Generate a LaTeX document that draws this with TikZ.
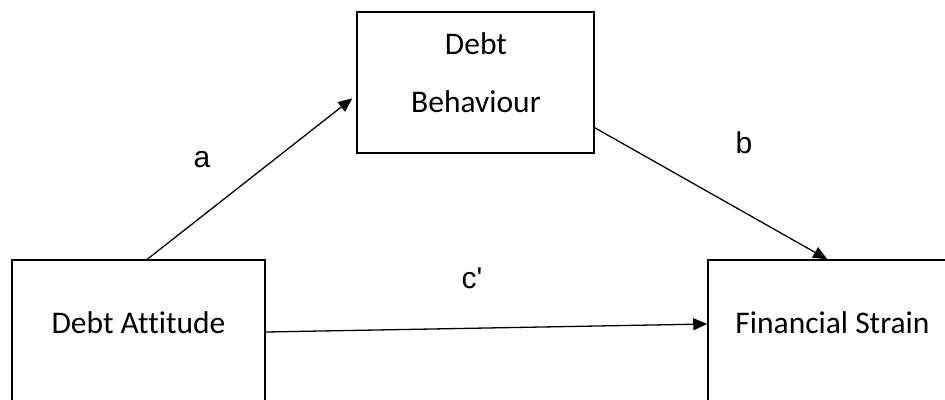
\documentclass[tikz,border=0pt]{standalone}
\usepackage{fontspec}
\setmainfont{Carlito}[Ligatures=NoCommon]
\newfontfamily\labfont{Liberation Sans}[Ligatures=TeXOff]
\usetikzlibrary{arrows.meta}
\begin{document}
\begin{tikzpicture}[x=1pt,y=-1pt,
  box/.style={draw,line width=1.5pt,fill=white,inner sep=0pt},
  txt/.style={font=\fontsize{31.5}{38}\selectfont,inner sep=0pt,anchor=base},
  lab/.style={font=\labfont\fontsize{30}{36}\selectfont,inner sep=0pt,anchor=base},
  conn/.style={line width=1.3pt,-{Triangle[length=14pt,width=12pt]}}]
\useasboundingbox (0,0) rectangle (945,399);
\clip (0,0) rectangle (945,399);
\node[box,minimum width=237pt,minimum height=141pt] (beh) at (475.5,82.5) {};
\node[box,minimum width=253pt,minimum height=144pt] (att) at (138.5,332) {};
\node[box,minimum width=252pt,minimum height=144pt] (fs) at (834,332) {};
\node[txt] (behA) at (476,54) {Debt};
\node[txt] (behB) at (476,112) {Behaviour};
\node[txt] (attT) at (138.5,333) {Debt Attitude};
\node[txt] (fsT) at (832.5,333) {Financial Strain};
\node[lab] (la) at (202,167) {a};
\node[lab] (lb) at (744,153) {b};
\node[lab] (lc) at (472,288) {c'};
\draw[conn,shorten >=5pt] ([xshift=136pt]att.north west) -- ([yshift=-84pt]beh.north west);
\draw[conn] ([yshift=26pt]beh.south east) -- ([xshift=120pt]fs.north west);
\draw[conn] (att.east) -- ([yshift=8pt]fs.west);
\end{tikzpicture}
\end{document}
